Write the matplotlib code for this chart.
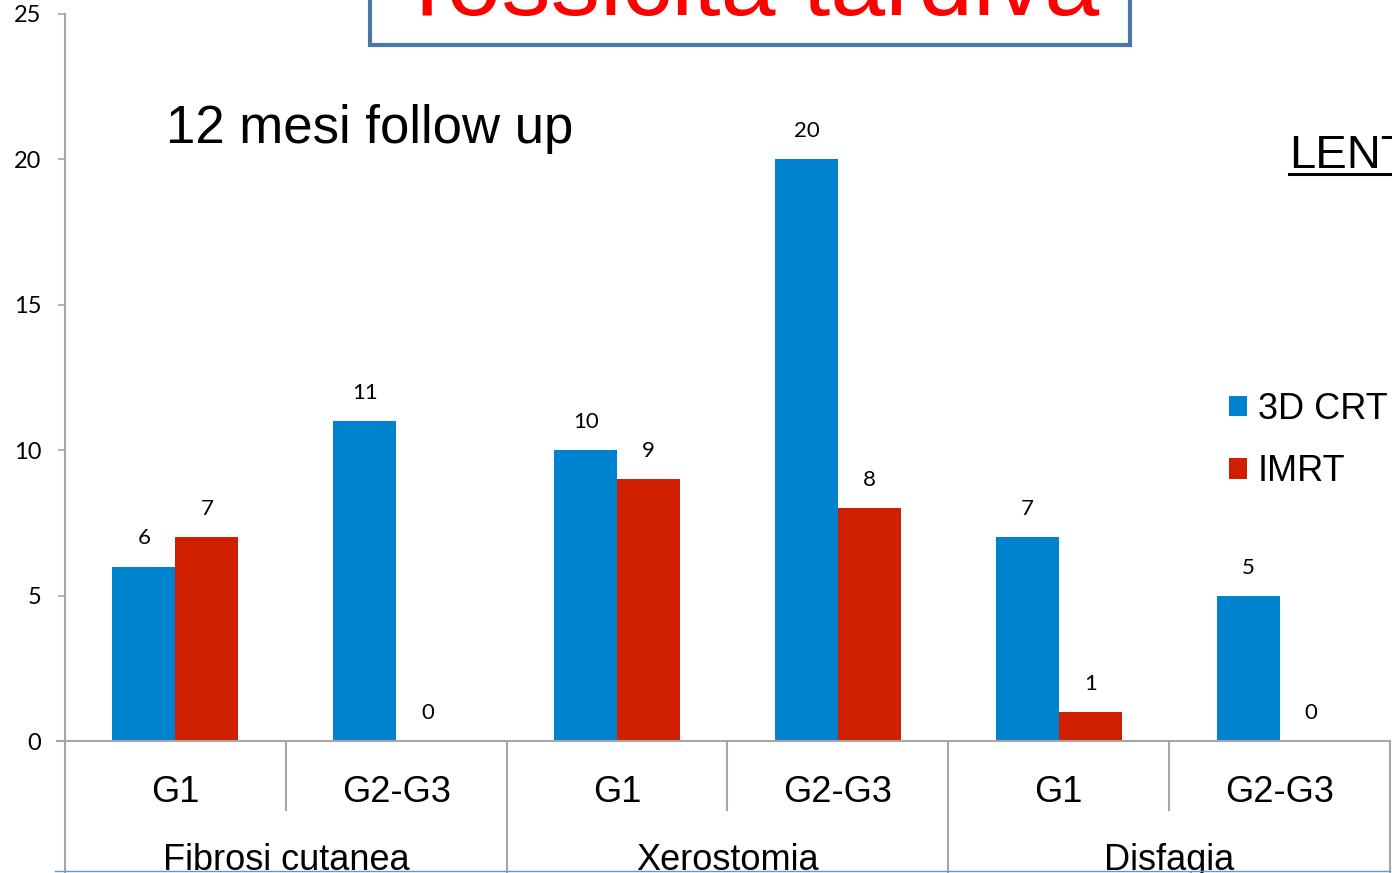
import numpy as np
import matplotlib
matplotlib.use("Agg")
import matplotlib.pyplot as plt
from matplotlib.patches import Rectangle
from matplotlib.lines import Line2D

# dati
gradi = ["G1", "G2-G3", "G1", "G2-G3", "G1", "G2-G3"]
gruppi = ["Fibrosi cutanea", "Xerostomia", "Disfagia"]
crt3d = [6, 11, 10, 20, 7, 5]
imrt = [7, 0, 9, 8, 1, 0]
serie = ["3D CRT", "IMRT"]
yticks = [0, 5, 10, 15, 20, 25]

blu = "#0083CE"
rosso = "#CF1F00"
grigio = "#A6A6A6"
arial = "Liberation Sans"
calibri = "Lato"

fig = plt.figure(figsize=(13.92, 8.73), dpi=100)
ax = fig.add_axes([65/1392, 1-741/873, 1325/1392, 727/873])

x = np.arange(len(gradi))
w = 0.285
b1 = ax.bar(x - w/2, crt3d, w, color=blu, label=serie[0])
b2 = ax.bar(x + w/2, imrt, w, color=rosso, label=serie[1])

for bars, vals in [(b1, crt3d), (b2, imrt)]:
    for r, v in zip(bars, vals):
        ax.annotate(str(v), (r.get_x() + r.get_width()/2, v),
                    xytext=(0, 13), textcoords="offset points",
                    ha="center", va="bottom", fontsize=16, family=calibri)

ax.set_xlim(-0.5, len(gradi) - 0.5)
ax.set_ylim(0, 25)
ax.set_yticks(yticks)
ax.set_yticklabels([str(t) for t in yticks], family=calibri, fontsize=17)
ax.tick_params(axis="y", length=5, width=1.2, color=grigio, pad=12)
ax.set_xticks([])
for s in ["top", "right"]:
    ax.spines[s].set_visible(False)
for s in ["left", "bottom"]:
    ax.spines[s].set_color(grigio)
    ax.spines[s].set_linewidth(1.5)
ax.spines["bottom"].set_bounds(-0.535, len(gradi) - 0.5)

# etichette categorie
tr = ax.get_xaxis_transform()
for i, g in enumerate(gradi):
    ax.text(i, -0.071, g, transform=tr, ha="center", va="center",
            fontsize=26, family=arial)
for j, g in enumerate(gruppi):
    ax.text(2*j + 0.5, -0.165, g, transform=tr, ha="center", va="center",
            fontsize=26, family=arial, clip_on=False)

# separatori
for i in range(len(gradi) + 1):
    xs = i - 0.5
    y0 = -0.3 if i % 2 == 0 else -0.095
    ax.add_line(Line2D([xs, xs], [0, y0], transform=tr, color=grigio,
                       lw=1.5, clip_on=False))

# legenda
ax.legend(frameon=False, loc="upper left",
          bbox_to_anchor=(1229/1392, 1-392/873), bbox_transform=fig.transFigure,
          prop={"family": arial, "size": 26}, handlelength=0.5, handleheight=0.5,
          handletextpad=0.3, labelspacing=0.75, borderpad=0, borderaxespad=0)

# testi della slide
fig.text(166/1392, 1-143/873, "12 mesi follow up", fontsize=38, family=arial,
         ha="left", va="baseline")
fig.text(1289/1392, 1-168/873, "LENT", fontsize=34, family=arial,
         ha="left", va="baseline")
fig.add_artist(Line2D([1289/1392, 1], [1-174/873, 1-174/873], color="black", lw=2.2))

fig.add_artist(Rectangle((370/1392, 1-45/873), 760/1392, 0.2, facecolor="white",
                         edgecolor="#4A76A8", lw=3, transform=fig.transFigure))
fig.text(748/1392, 1-15/873, "Tossicità tardiva", fontsize=71, family=arial,
         color="#FF0000", ha="center", va="baseline")

fig.add_artist(Line2D([55/1392, 1390/1392], [1-871/873, 1-871/873],
                      color="#5B9BD5", lw=1))

fig.savefig("out.png", dpi=100)
